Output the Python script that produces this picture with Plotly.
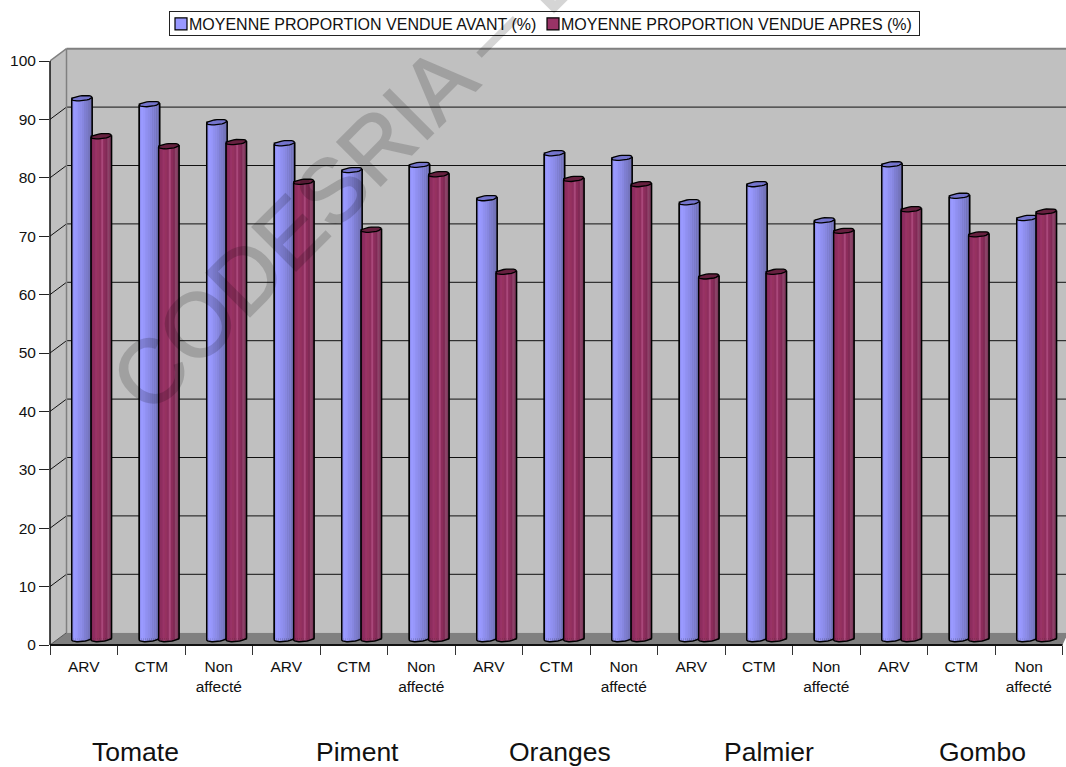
import math
import plotly.graph_objects as go

# Groups and statuses along the horizontal axis
crops = ["Tomate", "Piment", "Oranges", "Palmier", "Gombo"]
crop_positions = [1.27, 4.55, 7.56, 10.65, 13.82]
statuses = ["ARV", "CTM", "Non<br>affecté"]
categories = statuses * 5

# Mean share sold (%), before and after
before_values = [92.6, 91.6, 88.5, 84.9, 80.3, 81.2, 75.5, 83.2, 82.4, 74.8, 77.9, 71.7, 81.3, 75.9, 72.1]
after_values = [86.1, 84.4, 85.1, 78.3, 70.1, 79.6, 62.9, 78.8, 77.9, 62.1, 62.9, 69.9, 73.6, 69.3, 73.2]
before_name = "MOYENNE PROPORTION VENDUE AVANT (%)"
after_name = "MOYENNE PROPORTION VENDUE APRES (%)"
y_ticks = list(range(0, 101, 10))

# Cylinder shading, left to right across a column
before_shades = ["#8f8ff0", "#9a9aff", "#9797fa", "#9090f0", "#8c8ce8", "#8787df",
                 "#7f7fd2", "#7b7bca", "#7474bb", "#6e6eae"]
after_shades = ["#85295a", "#8e2d5f", "#993366", "#96325f", "#8f2e5e", "#a8487a",
                "#8c2d5c", "#802a56", "#8a4368", "#7c3a5c"]
before_color, before_top = "#9999ff", "#7474cc"
after_color, after_top = "#993366", "#66203f"

# Oblique projection of the box: depth expressed in axis units
PX_X, PX_Y = 67.5, 5.84
DEPTH_X, DEPTH_Y = 16.5 / PX_X, 12.3 / PX_Y
FLOOR_OFFSET = 6.0 / PX_Y
RX = 10.2 / PX_X
RY = 2.5 / PX_Y
TILT = 1.0 / PX_Y
BEFORE_CENTER, AFTER_CENTER = 0.473, 0.76
X_END = (1066 - 50) / PX_X
Y_END = (645 - 47) / PX_Y
INK = "#111111"


def rim(dx_frac, lower=True):
    """Height offset of the cylinder rim at a fraction -1..1 of its radius."""
    arc = RY * math.sqrt(max(0.0, 1 - dx_frac ** 2))
    return (-arc if lower else arc) + TILT * dx_frac


def add_series(fig, name, values, center, shades, color, top_color, xa, ya):
    xs = [i + center for i in range(len(values))]
    base = [FLOOR_OFFSET] * len(values)
    fig.add_trace(go.Bar(
        name=name, x=xs, y=values, base=base, width=2 * RX,
        marker=dict(color=color, line=dict(color="black", width=1.2)),
        xaxis=xa, yaxis=ya, hoverinfo="skip"))

    # Vertical strips that give each column its round look
    count = len(shades)
    strip = 2 * RX / count
    for k, shade in enumerate(shades):
        frac = (k + 0.5) / count * 2 - 1
        low = [FLOOR_OFFSET + rim(frac) for _ in values]
        high = [v + FLOOR_OFFSET + rim(frac) - low[0] for v in values]
        fig.add_trace(go.Bar(
            x=[x - RX + (k + 0.5) * strip for x in xs], y=high, base=low, width=strip,
            marker=dict(color=shade, line=dict(width=0)), showlegend=False,
            xaxis=xa, yaxis=ya, hoverinfo="skip"))

    # Column sides and bottom edge
    steps = 24
    ox, oy = [], []
    for x, v in zip(xs, values):
        top = v + FLOOR_OFFSET
        ox.append(x - RX)
        oy.append(top + rim(-1))
        for s in range(steps + 1):
            frac = s / steps * 2 - 1
            ox.append(x + frac * RX)
            oy.append(FLOOR_OFFSET + rim(frac))
        ox.append(x + RX)
        oy.append(top + rim(1))
        ox.append(None)
        oy.append(None)
    fig.add_trace(go.Scatter(
        x=ox, y=oy, mode="lines", line=dict(color="black", width=1.5),
        showlegend=False, xaxis=xa, yaxis=ya, hoverinfo="skip"))

    # Elliptical caps
    cx, cy = [], []
    for x, v in zip(xs, values):
        top = v + FLOOR_OFFSET
        for s in range(steps + 1):
            a = s / steps * 2 * math.pi
            frac = math.cos(a)
            cx.append(x + frac * RX)
            cy.append(top + RY * math.sin(a) + TILT * frac)
        cx.append(None)
        cy.append(None)
    fig.add_trace(go.Scatter(
        x=cx, y=cy, mode="lines", fill="toself", fillcolor=top_color,
        line=dict(color="black", width=1.3), showlegend=False,
        xaxis=xa, yaxis=ya, hoverinfo="skip"))


fig = go.Figure()
add_series(fig, before_name, before_values, BEFORE_CENTER, before_shades, before_color, before_top, "x", "y")
add_series(fig, after_name, after_values, AFTER_CENTER, after_shades, after_color, after_top, "x2", "y2")

# Walls, floor and gridlines of the box
WALL, FLOOR, EDGE = "#c0c0c0", "#808080", "#808080"
shapes = [
    dict(type="rect", x0=DEPTH_X, x1=X_END, y0=DEPTH_Y, y1=100 + DEPTH_Y,
         fillcolor=WALL, line=dict(width=0), layer="below"),
    dict(type="path", path=f"M 0 0 L {DEPTH_X} {DEPTH_Y} L {DEPTH_X} {100 + DEPTH_Y} L 0 100 Z",
         fillcolor=WALL, line=dict(width=0), layer="below"),
    dict(type="path", path=f"M 0 0 L {DEPTH_X} {DEPTH_Y} L {X_END} {DEPTH_Y} L {X_END} {DEPTH_Y * 0.6} L 15 0 Z",
         fillcolor=FLOOR, line=dict(width=0), layer="below"),
]
for v in y_ticks[1:-1]:
    shapes.append(dict(type="line", x0=DEPTH_X, x1=X_END, y0=v + DEPTH_Y, y1=v + DEPTH_Y,
                       line=dict(color="#111111", width=1), layer="below"))
    shapes.append(dict(type="line", x0=0, x1=DEPTH_X, y0=v, y1=v + DEPTH_Y,
                       line=dict(color="#111111", width=1), layer="below"))
shapes += [
    dict(type="line", x0=DEPTH_X, x1=X_END, y0=100 + DEPTH_Y, y1=100 + DEPTH_Y,
         line=dict(color=EDGE, width=2), layer="below"),
    dict(type="line", x0=0, x1=DEPTH_X, y0=100, y1=100 + DEPTH_Y,
         line=dict(color=EDGE, width=1.5), layer="below"),
    dict(type="line", x0=DEPTH_X, x1=DEPTH_X, y0=DEPTH_Y, y1=100 + DEPTH_Y,
         line=dict(color=EDGE, width=1.5), layer="below"),
    dict(type="line", x0=0, x1=DEPTH_X, y0=0, y1=DEPTH_Y,
         line=dict(color="#555555", width=1), layer="below"),
    dict(type="line", xref="paper", x0=0, x1=0, yref="y", y0=0, y1=100,
         line=dict(color=INK, width=1.5)),
    dict(type="line", xref="x", x0=0, x1=15, yref="paper", y0=0, y1=0,
         line=dict(color=INK, width=2)),
]

annotations = [
    dict(text=c, x=p, xref="x", y=-0.1785, yref="paper", xanchor="center", yanchor="middle",
         showarrow=False, font=dict(size=26.5, color="#111111"))
    for c, p in zip(crops, crop_positions)
]
# Diagonal watermark across the page
annotations.append(dict(
    text="CODESRIA – LIBRARY", textangle=-45, xref="paper", yref="paper",
    x=0.406, y=0.979, xanchor="center", yanchor="middle", showarrow=False,
    opacity=0.16, font=dict(size=90, color="black")))

fig.update_layout(
    width=1066, height=767, autosize=False,
    margin=dict(l=50, r=0, t=47, b=122),
    paper_bgcolor="white", plot_bgcolor="rgba(0,0,0,0)",
    font=dict(family="Liberation Sans, Arial, sans-serif", size=15.5, color=INK),
    barmode="overlay", showlegend=True,
    legend=dict(orientation="h", x=(148 - 50) / 1016, xanchor="left",
                y=(645 - 6) / 598, yanchor="top", entrywidth=327, entrywidthmode="pixels",
                font=dict(size=16, color=INK), bgcolor="white",
                bordercolor="#222222", borderwidth=1),
    shapes=shapes, annotations=annotations,
    xaxis=dict(range=[0, X_END], tickmode="array",
               tickvals=[i + 0.5 for i in range(15)], ticktext=categories,
               ticks="outside", ticklen=7.5, tickcolor="rgba(0,0,0,0)",
               minor=dict(tickmode="array", tickvals=list(range(16)), ticks="outside",
                          ticklen=9, tickcolor="#333333", tickwidth=1.3),
               showgrid=False, zeroline=False, showline=False, fixedrange=True),
    yaxis=dict(range=[0, Y_END], tickmode="array", tickvals=y_ticks,
               ticks="outside", ticklen=10, tickcolor="#222222", tickwidth=1.3,
               showgrid=False, zeroline=False, showline=False, fixedrange=True),
    xaxis2=dict(overlaying="x", matches="x", visible=False),
    yaxis2=dict(overlaying="y", matches="y", visible=False),
)

# Tighten the legend frame around its entries and lift the watermark over it
after_plot = """
var bg = document.querySelector('.legend .bg');
if (bg) {
  var box = bg.getBBox();
  bg.setAttribute('x', box.x + 21);
  bg.setAttribute('width', 750);
  bg.setAttribute('y', box.y + 4.5);
  bg.setAttribute('height', 24);
}
var scroller = document.querySelector('.legend .scrollbox');
if (scroller) { scroller.removeAttribute('clip-path'); }
document.querySelectorAll('.legend .legendsymbols').forEach(function (s) {
  s.setAttribute('transform', 'translate(12,0)');
});
var mark = document.querySelector('.annotation[data-index="5"]');
if (mark) {
  mark.parentNode.appendChild(mark);
  var label = mark.querySelector('text');
  if (label) { label.style.stroke = 'black'; label.style.strokeWidth = '1.6px'; }
}
"""

fig.write_html("out.html", post_script=after_plot)
